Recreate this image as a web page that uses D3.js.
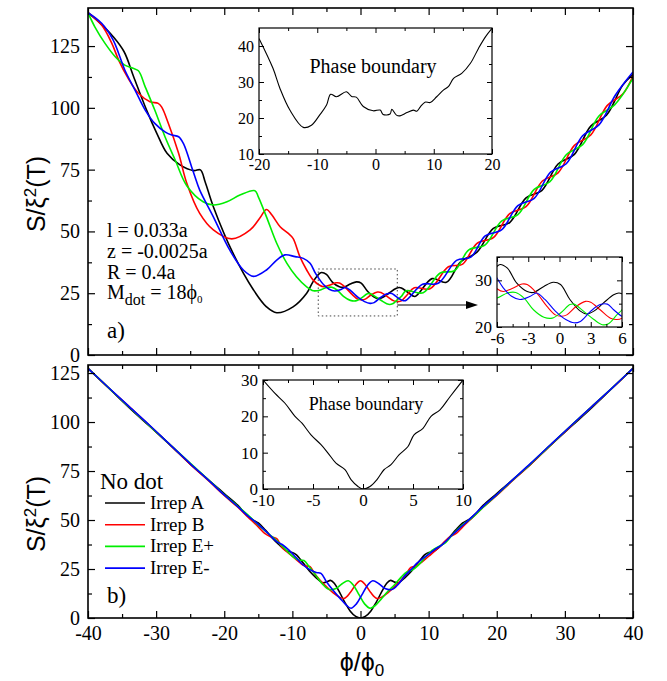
<!DOCTYPE html>
<html>
<head>
<meta charset="utf-8">
<script src="https://cdn.jsdelivr.net/npm/d3@7"></script>
<style>
  body { margin: 0; background: #fff; }
  svg text { font-family: "Liberation Serif", "Times New Roman", serif; fill: #000; }
</style>
</head>
<body>
<div id="chart"></div>
<script>
// ---- data ----
const seriesNames = ["Irrep A", "Irrep B", "Irrep E+", "Irrep E-"];
const seriesColors = ["#000000", "#ff0000", "#00ee00", "#0000ff"];

const fluxTicks = [-40, -30, -20, -10, 0, 10, 20, 30, 40];
const fluxMinor = [-35, -25, -15, -5, 5, 15, 25, 35];
const entropyTicks = [0, 25, 50, 75, 100, 125];
const entropyMinor = [12.5, 37.5, 62.5, 87.5, 112.5];

// panel a) : with dot
const dotA = [[-40,138.5],[-38.2,134.2],[-36.3,128.8],[-34.7,122.7],[-33.3,112.6],[-31.4,99.1],[-29.9,89.7],
  [-28.4,81.6],[-26.5,76.9],[-24.5,74.6],[-23.5,74.9],[-22.8,70],[-21.6,60],[-18.7,41.1],[-15.7,26.3],
  [-13.8,19.5],[-12.3,17.1],[-9.9,19.5],[-7.9,25],[-7.0,29.5],
  [-6,33],[-5.7,33.4],[-5.0,32.6],[-4.1,29.4],[-3.1,27.6],[-2.5,27.4],[-1.5,28.7],[-0.6,29.6],[0.1,29.1],
  [1.0,25.9],[2.0,23.4],[2.6,22.8],[3.3,23.4],[4.2,25.1],[5.2,26.9],[5.7,27.3],[6,27.1],
  [7.0,25.3],[8.0,23.7],[10.5,30.9],[12.6,29.4],[14.7,37.7],[17.1,41.6],[19.5,51.2],[21.9,53.6],
  [24.3,63.6],[26.6,66.5],[29.0,77.3],[31.4,81.2],[33.8,92.6],[36.1,97.0],[38.5,109.2],[40,113.5]];
const dotB = [[-40,138.5],[-38,133.5],[-36.5,126.1],[-35.5,119.3],[-34.1,111.9],[-32.6,105.9],[-30.9,102.5],
  [-29.7,101.8],[-29.2,100.4],[-28.2,93.7],[-26.7,81.6],[-25.5,69.5],[-23.6,57.3],[-21.6,50.6],[-18.9,47.0],
  [-16.2,50.6],[-14.8,55.3],[-13.8,58.9],[-13.0,56.6],[-11.8,51.9],[-10.6,49.2],[-9.9,47.2],[-8.9,39.8],
  [-7.9,34.4],[-7.0,30.5],
  [-6,28.2],[-5.4,27.6],[-4.6,28.2],[-3.6,29.2],[-3.1,29.1],[-2.2,27.3],[-1.2,24.4],[-0.4,22.6],[0.2,22.3],
  [0.7,22.6],[1.6,24.4],[2.5,25.5],[3.0,25.3],[3.9,23.7],[4.9,21.9],[5.5,21.6],[6,21.9],
  [6.8,24.2],[7.9,27.2],[10.2,26.8],[12.9,35.7],[15.0,36.8],[17.1,45.2],[19.5,47.5],[21.9,57.2],
  [24.3,60.0],[26.7,70.4],[29.0,73.7],[31.4,84.8],[33.8,89.0],[36.2,100.9],[38.5,105.6],[40,113.0]];
const dotEp = [[-40,138.5],[-39,132.8],[-37.5,126.1],[-36,120.7],[-34.6,117.3],[-33.4,116],[-32.6,115],
  [-31.6,108.5],[-30.2,99.1],[-28.7,88.3],[-27.2,78.9],[-25.5,68.5],[-23.1,62.0],[-21.6,60.7],[-19.6,62.0],
  [-17.7,64.7],[-15.5,66.5],[-15.0,64.0],[-13.8,55.9],[-12.3,45.2],[-10.8,37.1],[-9.4,31.7],[-7.9,27.6],
  [-6.9,26.0],
  [-6,26.2],[-5.0,27.3],[-4.2,27.4],[-3.4,26.2],[-2.5,23.7],[-1.5,22.1],[-0.7,21.9],[0.1,23.0],[1.0,24.8],
  [1.4,24.9],[2.3,23.4],[3.3,21.6],[4.1,20.5],[4.7,20.7],[5.5,22.6],[6,23.7],
  [6.7,26.0],[9.2,25.2],[11.7,33.2],[13.8,34.1],[15.9,42.5],[18.3,44.6],[20.7,54.2],[23.1,56.8],
  [25.5,67.0],[27.8,70.1],[30.2,81.0],[32.6,85.1],[35.0,96.7],[37.3,101.2],[40,112.0]];
const dotEm = [[-40,138.5],[-38,134.2],[-36.3,127.4],[-35.5,122],[-34.6,115.3],[-33.1,107.2],[-31.6,99.1],
  [-30.2,93.7],[-28.7,90.3],[-27.7,89],[-26.7,88.3],[-26,85.6],[-24.8,76.2],[-24.3,72.1],[-23.6,66.7],
  [-21.6,55.9],[-19.2,42.5],[-17.2,34.4],[-15.7,31.8],[-13.8,34.4],[-12.3,38.4],[-11.1,40.5],[-9.6,39.8],
  [-8.4,39.1],[-7.4,37.1],[-6.6,33.0],
  [-6,30.5],[-5.4,28.4],[-4.6,26.6],[-3.8,25.9],[-2.8,26.6],[-2.2,27.3],[-1.4,25.9],[-0.4,23.4],[0.6,21.6],
  [1.4,20.9],[2.0,21.2],[3.0,23.4],[3.9,24.8],[4.6,24.9],[5.2,23.7],[6,22.3],
  [6.6,22.0],[9.1,28.6],[11.4,29.0],[14.1,38.3],[16.2,39.6],[18.3,48.2],[20.7,50.6],[23.1,60.4],
  [25.5,63.4],[27.9,74.0],[30.2,77.4],[32.6,88.7],[35.0,93.1],[37.4,105.1],[40,114.5]];

// panel b) : no dot
const noDotA = [[-40,127.4],[-37,117.5],[-34,107.5],[-31,98],[-28,88.5],[-25,78.5],[-22,69.5],[-20,63.5],
  [-18,57.5],[-17,53.5],[-16,50.5],[-15,48.5],[-14,45],[-13,41],[-12,37.5],[-11,34.5],[-10.2,33.6],
  [-9.5,32.5],[-8.5,28.5],[-7.5,24],[-6.5,20.5],[-5.6,18],[-5.0,18.3],[-4.4,19.2],[-3.8,17.5],[-3.2,14],
  [-2.3,8],[-1.5,3.5],[-0.7,0.8],[0,0],[0.7,0.8],[1.5,3.5],[2.3,8],[3.2,14],[3.8,17.5],[4.4,19.2],
  [5.0,18.3],[5.6,18.0],[6.5,20.5],[7.5,24],[8.5,28.5],[9.5,32.5],[10.2,33.6],[11,34.5],[12,37.5],
  [13,41],[14,45],[15,48.5],[16,50.5],[17,53.5],[18,57.5],[20,63.5],[22,69.5],[25,78.5],[28,88.5],
  [31,98],[34,107.5],[37,117.5],[40,127.4]];
const noDotB = [[-40,127.4],[-37,117.5],[-34,108],[-31,98.3],[-28,88.5],[-25,78.5],[-22,69],[-20,62.5],
  [-18,56.5],[-16.5,51.5],[-15,46.5],[-14,43],[-13.2,41.5],[-12.3,40.5],[-11.5,36],[-10,31.5],[-9,28.5],
  [-8.2,26.6],[-7.4,26.2],[-6.8,23],[-6,19.5],[-5,16],[-4,12.8],[-3.2,10.8],[-2.4,10],[-1.5,13],
  [-0.7,17],[0,19],[0.7,17],[1.5,13],[2.4,10],[3.2,10.8],[4.0,12.8],[5.0,16],[6.0,19.5],[6.8,23],
  [7.4,25.8],[8.2,26.6],[9.0,28.5],[10,31.5],[11.5,36],[12.5,39.5],[13.2,41.5],[14,43],[15,46.5],
  [16.5,51.5],[18,56.5],[20,62.5],[22,69],[25,78.5],[28,88.5],[31,98.3],[34,108],[37,117.5],[40,127.4]];
const noDotEp = [[-40,127.4],[-35,111],[-30,95],[-25,79],[-22,69.5],[-20,63],[-18,57],[-16.5,52.5],
  [-15,47.5],[-13.5,43],[-12,38.5],[-11,35],[-10,31.5],[-9,29.5],[-8.3,29.3],[-7.5,26],[-6.5,21.5],
  [-5.5,17],[-4.6,14.5],[-3.6,15],[-2.7,17.5],[-1.8,19],[-1.0,16.5],[-0.2,11.8],[0.6,7.2],[1.4,5],
  [2.2,6.5],[3.0,9.5],[4.0,13.5],[5.0,17],[6.0,21],[6.8,23.5],[7.6,24.5],[8.5,27],[9.5,31],[10.5,34.5],
  [11.5,36.5],[12.5,38.5],[13.5,42.5],[15,47.5],[16.5,51.5],[18,56.5],[20,62.8],[22,69.3],[25,78.8],
  [28,88.6],[31,98.5],[34,108],[37,117.6],[40,127.4]];
const noDotEm = [[-40,127.4],[-37,117.6],[-34,108],[-31,98.5],[-28,88.6],[-25,78.8],[-22,69.3],[-20,62.8],
  [-18,56.8],[-16.5,52],[-15,47.8],[-13.5,43],[-12.3,39],[-11.5,37.5],[-10.5,34.6],[-9.5,31],[-8.5,27.3],
  [-7.5,24.8],[-6.5,23.2],[-5.8,22.8],[-5.0,18.5],[-4.0,14],[-3.0,10],[-2.2,7],[-1.4,5],[-0.6,7.2],
  [0.2,11.8],[1.0,16.5],[1.8,19],[2.7,17.5],[3.6,15],[4.6,14.5],[5.5,17],[6.5,21.5],[7.5,25],[8.3,28],
  [9,30],[10,32.5],[11,35.2],[12,37.5],[13.5,42.5],[15,47.2],[16.5,52],[18,57],[20,63],[22,69.5],
  [25,79],[28,88.8],[31,98.5],[34,108],[37,117.6],[40,127.4]];

// phase boundaries (insets)
const pbDot = [[-20,42.1],[-17.6,33.8],[-16.4,28.2],[-14.7,22.2],[-12.4,17.4],[-11,18],[-9.6,20.8],
  [-8.4,23.6],[-7.7,26.6],[-6.7,25.9],[-5,27.3],[-4.1,26],[-3.3,25.8],[-2.1,23.2],[-0.4,22],[0.8,22.2],
  [1.3,21],[2.5,21.1],[2.8,22.4],[3.6,20.8],[4.2,20.6],[5.4,21.5],[6.5,22.2],[7.1,21.9],[7.7,23.1],
  [8.5,24.4],[9.4,24.3],[10.5,25.9],[11.7,27.8],[12.5,28.7],[13.4,31],[14.8,32.4],[16.3,35.2],
  [17.7,39.4],[18.9,42.6],[20,44.9]];
const pbNoDot = [[-10,30],[-8.8,26.3],[-7.8,23.6],[-6.8,20],[-6.1,18.1],[-5.2,14.9],[-4.2,12.2],
  [-3.5,9.9],[-2.7,7.1],[-1.8,5.3],[-1.2,2.6],[-0.5,0.7],[0,0],[0.7,0.7],[1.4,2.6],[2.1,5.3],[2.8,6.7],
  [3.6,9.4],[4.5,11.7],[5.1,14.9],[6,16.7],[6.8,20],[7.7,21.8],[8.7,25.4],[10,30]];

const dotBox = [[-6.2, 15.8], [5.4, 34.8]];   // dotted zoom region (data units)

// ---- layout ----
const W = 667, H = 681;
const L = 88, R = 633;

const svg = d3.select("#chart").append("svg")
  .attr("width", W).attr("height", H)
  .style("background", "#fff");

const fmt = d => String(d);

function axes(g, x, y, o) {
  const [yb, yt] = y.range(), [xl, xr] = x.range();
  const put = (axis, tr, vals, size, lab) => {
    if (!vals || !vals.length) return;
    const a = g.append("g").attr("transform", tr)
      .call(axis.tickValues(vals).tickSizeInner(-size).tickSizeOuter(0)
        .tickPadding(o.pad).tickFormat(lab ? fmt : ""));
    a.select(".domain").remove();
    a.selectAll("line").attr("stroke", "#000").attr("stroke-width", o.tw);
    a.selectAll("text").attr("font-size", o.fs)
      .style("font-family", "'Liberation Serif', serif");
  };
  put(d3.axisBottom(x), `translate(0,${yb})`, o.xMajor, o.major, o.xLab);
  put(d3.axisBottom(x), `translate(0,${yb})`, o.xMinor, o.minor, false);
  put(d3.axisTop(x), `translate(0,${yt})`, o.xMajor, o.major, false);
  put(d3.axisTop(x), `translate(0,${yt})`, o.xMinor, o.minor, false);
  put(d3.axisLeft(y), `translate(${xl},0)`, o.yMajor, o.major, o.yLab);
  put(d3.axisLeft(y), `translate(${xl},0)`, o.yMinor, o.minor, false);
  put(d3.axisRight(y), `translate(${xr},0)`, o.yMajor, o.major, false);
  put(d3.axisRight(y), `translate(${xr},0)`, o.yMinor, o.minor, false);
  g.append("rect")
    .attr("x", xl).attr("y", yt).attr("width", xr - xl).attr("height", yb - yt)
    .attr("fill", "none").attr("stroke", "#000").attr("stroke-width", o.fw);
}

let clipId = 0;
function curves(g, x, y, list, width, filterX) {
  const id = "clip" + (++clipId);
  g.append("clipPath").attr("id", id).append("rect")
    .attr("x", x.range()[0]).attr("y", y.range()[1])
    .attr("width", x.range()[1] - x.range()[0])
    .attr("height", y.range()[0] - y.range()[1]);
  const line = d3.line()
    .x(d => x(d[0])).y(d => y(d[1]))
    .curve(d3.curveCatmullRom.alpha(0.5));
  const cg = g.append("g").attr("clip-path", `url(#${id})`);
  list.forEach(s => {
    const pts = filterX ? s.data.filter(d => d[0] >= filterX[0] - 1 && d[0] <= filterX[1] + 1) : s.data;
    cg.append("path")
      .attr("d", line(pts))
      .attr("fill", "none")
      .attr("stroke", s.color)
      .attr("stroke-width", width)
      .attr("stroke-linejoin", "round");
  });
}

function insetBg(g, x, y) {
  g.append("rect")
    .attr("x", x.range()[0]).attr("y", y.range()[1])
    .attr("width", x.range()[1] - x.range()[0])
    .attr("height", y.range()[0] - y.range()[1])
    .attr("fill", "#fff");
}

const x = d3.scaleLinear().domain([-40, 40]).range([L, R]);
const mainOpts = {
  major: 7, minor: 4, pad: 8, fs: 20, tw: 1.2, fw: 1.6,
  xMajor: fluxTicks, xMinor: fluxMinor, yMajor: entropyTicks, yMinor: entropyMinor, yLab: true
};

// ===== panel a) =====
const yTop = d3.scaleLinear().domain([0, 140.4]).range([355, 8]);
const gTop = svg.append("g");
const dotSeries = [dotA, dotB, dotEp, dotEm].map((d, i) => ({ data: d, color: seriesColors[i] }));
curves(gTop, x, yTop, dotSeries, 1.6);
axes(gTop, x, yTop, Object.assign({}, mainOpts, { xLab: false }));

// dotted region + arrow
gTop.append("rect")
  .attr("x", x(dotBox[0][0])).attr("y", yTop(dotBox[1][1]))
  .attr("width", x(dotBox[1][0]) - x(dotBox[0][0]))
  .attr("height", yTop(dotBox[0][1]) - yTop(dotBox[1][1]))
  .attr("fill", "none").attr("stroke", "#444").attr("stroke-width", 1)
  .attr("stroke-dasharray", "1.5,2.5");
const arrowY = 305;
gTop.append("line")
  .attr("x1", x(dotBox[1][0])).attr("x2", 466).attr("y1", arrowY).attr("y2", arrowY)
  .attr("stroke", "#000").attr("stroke-width", 1.2);
gTop.append("path")
  .attr("d", `M466,${arrowY - 4}L478,${arrowY}L466,${arrowY + 4}Z`)
  .attr("fill", "#000");

// text block
const tb = gTop.append("g").attr("font-size", 20);
tb.append("text").attr("x", 107).attr("y", 237).text("l = 0.033a");
tb.append("text").attr("x", 107).attr("y", 258).text("z = -0.0025a");
tb.append("text").attr("x", 107).attr("y", 279).text("R = 0.4a");
const mt = tb.append("text").attr("x", 107).attr("y", 299);
mt.append("tspan").text("M");
mt.append("tspan").attr("dy", 6).attr("font-size", 16).text("dot");
mt.append("tspan").attr("dy", -6).text(" = 18\u03d5");
mt.append("tspan").attr("dy", 4).attr("font-size", 11).text("0");
gTop.append("text").attr("x", 107).attr("y", 338).attr("font-size", 23).text("a)");

// inset: phase boundary (dot)
const ix1 = d3.scaleLinear().domain([-20, 20]).range([259, 492]);
const iy1 = d3.scaleLinear().domain([10, 45]).range([154, 28]);
const gI1 = svg.append("g");
insetBg(gI1, ix1, iy1);
curves(gI1, ix1, iy1, [{ data: pbDot, color: "#000" }], 1.1);
axes(gI1, ix1, iy1, {
  major: 5, minor: 3, pad: 5, fs: 16, tw: 1, fw: 1.2,
  xMajor: [-20, -10, 0, 10, 20], xMinor: [-15, -5, 5, 15], xLab: true,
  yMajor: [10, 20, 30, 40], yMinor: [15, 25, 35], yLab: true
});
gI1.append("text").attr("x", 373).attr("y", 73).attr("text-anchor", "middle")
  .attr("font-size", 20).text("Phase boundary");

// inset: zoom on -6..6
const ix2 = d3.scaleLinear().domain([-6, 6]).range([497, 622]);
const iy2 = d3.scaleLinear().domain([20, 35]).range([327, 257]);
const gI2 = svg.append("g");
insetBg(gI2, ix2, iy2);
curves(gI2, ix2, iy2, dotSeries, 1.1, [-6, 6]);
axes(gI2, ix2, iy2, {
  major: 5, minor: 3, pad: 5, fs: 17, tw: 1, fw: 1.2,
  xMajor: [-6, -3, 0, 3, 6], xMinor: [-4.5, -1.5, 1.5, 4.5], xLab: true,
  yMajor: [20, 30], yMinor: [25, 35], yLab: true
});

// ===== panel b) =====
const yBot = d3.scaleLinear().domain([0, 129.1]).range([618, 365]);
const gBot = svg.append("g");
const noDotSeries = [noDotA, noDotB, noDotEp, noDotEm].map((d, i) => ({ data: d, color: seriesColors[i] }));
curves(gBot, x, yBot, noDotSeries, 1.6);
axes(gBot, x, yBot, Object.assign({}, mainOpts, { xLab: true, pad: 8 }));

// legend
const lg = gBot.append("g");
lg.append("text").attr("x", 100).attr("y", 489).attr("font-size", 23).text("No dot");
seriesNames.forEach((n, i) => {
  const yy = 503 + i * 21.7;
  lg.append("line").attr("x1", 105).attr("x2", 145).attr("y1", yy).attr("y2", yy)
    .attr("stroke", seriesColors[i]).attr("stroke-width", 1.6);
  lg.append("text").attr("x", 150).attr("y", yy + 6).attr("font-size", 19).text(n);
});
gBot.append("text").attr("x", 107).attr("y", 603).attr("font-size", 23).text("b)");

// inset: phase boundary (no dot)
const ix3 = d3.scaleLinear().domain([-10, 10]).range([263, 463]);
const iy3 = d3.scaleLinear().domain([0, 30]).range([489, 380]);
const gI3 = svg.append("g");
insetBg(gI3, ix3, iy3);
curves(gI3, ix3, iy3, [{ data: pbNoDot, color: "#000" }], 1.1);
axes(gI3, ix3, iy3, {
  major: 5, minor: 3, pad: 5, fs: 17, tw: 1, fw: 1.2,
  xMajor: [-10, -5, 0, 5, 10], xMinor: [-7.5, -2.5, 2.5, 7.5], xLab: true,
  yMajor: [0, 10, 20, 30], yMinor: [5, 15, 25], yLab: true
});
gI3.append("text").attr("x", 366).attr("y", 410).attr("text-anchor", "middle")
  .attr("font-size", 18).text("Phase boundary");

// ===== axis titles =====
function yTitle(cx, cy) {
  const t = svg.append("text")
    .attr("transform", `translate(${cx},${cy}) rotate(-90)`)
    .attr("text-anchor", "middle")
    .style("font-family", "'Liberation Sans', Arial, sans-serif")
    .attr("font-size", 25);
  t.append("tspan").text("S/\u03be");
  t.append("tspan").attr("dy", -9).attr("font-size", 17).text("2");
  t.append("tspan").attr("dy", 9).text("(T)");
}
yTitle(45, 194);
yTitle(45, 514);

const xt = svg.append("text")
  .attr("x", 362).attr("y", 671).attr("text-anchor", "middle")
  .style("font-family", "'Liberation Sans', 'DejaVu Sans', Arial, sans-serif")
  .attr("font-size", 25);
xt.append("tspan").text("\u03d5/\u03d5");
xt.append("tspan").attr("dy", 5).attr("font-size", 17).text("0");
</script>
</body>
</html>
